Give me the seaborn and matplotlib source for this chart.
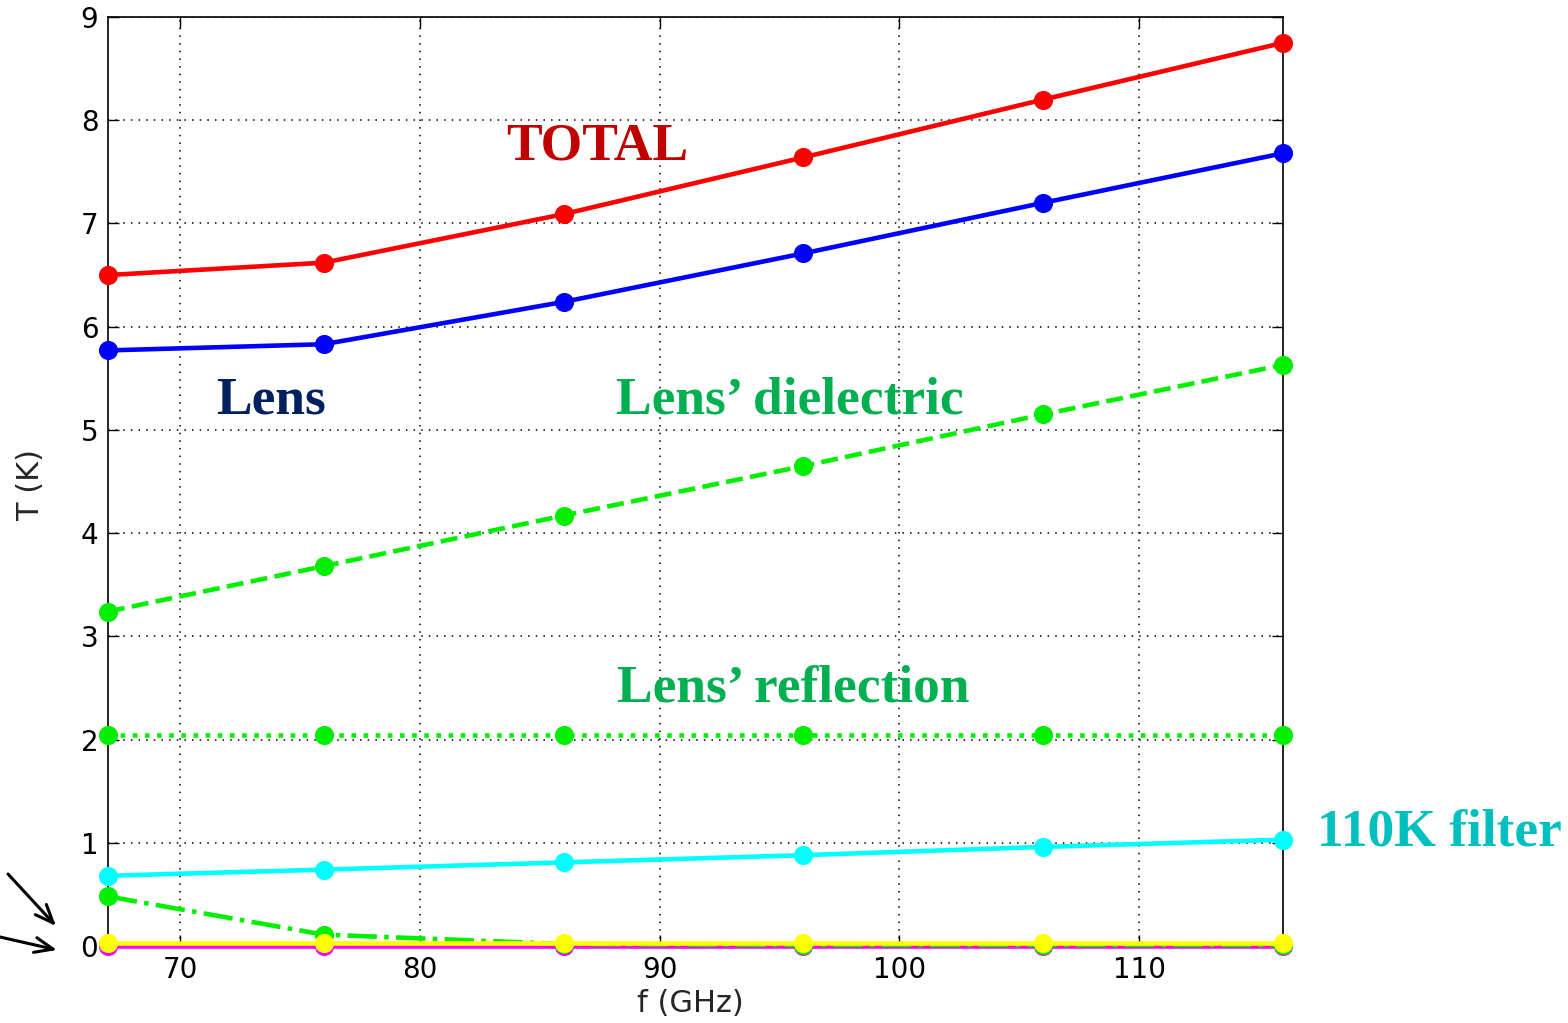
import matplotlib
matplotlib.use("Agg")
import matplotlib.pyplot as plt
import seaborn as sns
import pandas as pd

# Frequencies (GHz)
freq = [67, 76, 86, 96, 106, 116]

# Noise temperature contributions (K)
total = [6.50, 6.62, 7.09, 7.64, 8.20, 8.75]
lens = [5.77, 5.83, 6.24, 6.71, 7.20, 7.68]
lens_dielectric = [3.24, 3.68, 4.17, 4.65, 5.15, 5.63]
lens_reflection = [2.04, 2.04, 2.04, 2.04, 2.04, 2.04]
filter_110k = [0.68, 0.74, 0.81, 0.88, 0.96, 1.03]
other_green = [0.48, 0.11, 0.02, 0.01, 0.01, 0.01]
other_magenta = [0.0, 0.0, 0.0, 0.0, 0.0, 0.0]
other_yellow = [0.03, 0.03, 0.03, 0.03, 0.03, 0.03]

sns.set_theme(style="white")
plt.rcParams["font.family"] = ["DejaVu Sans"]

W, H = 1568, 1023
fig = plt.figure(figsize=(W / 100, H / 100), dpi=100)
L, R, T, B = 108, 1283, 17, 946
ax = fig.add_axes([L / W, 1 - B / H, (R - L) / W, (B - T) / H])

series = [
    (other_magenta, "#ff00ff", "-"),
    (other_green, "#00ee00", "-."),
    (other_yellow, "#ffff00", "-"),
    (filter_110k, "#00ffff", "-"),
    (lens_reflection, "#00ee00", ":"),
    (lens_dielectric, "#00ee00", "--"),
    (lens, "#0000ff", "-"),
    (total, "#ff0000", "-"),
]

for vals, color, ls in series:
    df = pd.DataFrame({"f": freq, "T": vals})
    sns.lineplot(data=df, x="f", y="T", ax=ax, color=color, linestyle=ls,
                 linewidth=3.3, marker="o", markersize=13,
                 markeredgecolor=color, clip_on=False, zorder=3)

ax.set_xlim(67, 116)
ax.set_ylim(0, 9)
ax.set_xticks([70, 80, 90, 100, 110])
ax.set_yticks(range(0, 10))
ax.grid(True, color="black", linestyle=(0, (1, 4)), linewidth=1.1)
for sp in ax.spines.values():
    sp.set_color("black")
    sp.set_linewidth(1.2)
    sp.set_visible(True)
ax.tick_params(direction="in", length=8, width=1, labelsize=20, colors="black",
               top=True, right=True, bottom=True, left=True, pad=7)

ax.set_xlabel("f (GHz)", fontsize=22)
ax.set_ylabel("T (K)", fontsize=22)
ax.xaxis.set_label_coords((690 - L) / (R - L), (B - 1003) / (B - T))
ax.xaxis.label.set_va("center")
ax.yaxis.set_label_coords((31 - L) / (R - L), (B - 485) / (B - T))
ax.yaxis.label.set_va("center")

serif = ["Liberation Serif", "DejaVu Serif"]
label_kw = dict(fontsize=38.5, fontweight="bold", family=serif, ha="center", va="center")
fig.text(597 / W, 1 - 146 / H, "TOTAL", color="#c00000", **label_kw)
fig.text(271 / W, 1 - 400 / H, "Lens", color="#002060", **label_kw)
fig.text(790 / W, 1 - 400 / H, "Lens\u2019 dielectric", color="#00b050", **label_kw)
fig.text(793 / W, 1 - 688 / H, "Lens\u2019 reflection", color="#00b050", **label_kw)
fig.text(1439 / W, 1 - 833 / H, "110K filter", color="#00bfbf", **label_kw)

# Pointer arrows toward the near-zero curves
arrow = dict(arrowstyle="->,head_length=1.1,head_width=0.45", color="black", lw=2.2,
             shrinkA=0, shrinkB=0)
ax.annotate("", xy=(56 / W, 1 - 926 / H), xytext=(8 / W, 1 - 874 / H),
            xycoords="figure fraction", textcoords="figure fraction", arrowprops=arrow,
            annotation_clip=False)
ax.annotate("", xy=(57 / W, 1 - 950 / H), xytext=(0 / W, 1 - 937 / H),
            xycoords="figure fraction", textcoords="figure fraction", arrowprops=arrow,
            annotation_clip=False)

fig.savefig("out.png", dpi=100)
